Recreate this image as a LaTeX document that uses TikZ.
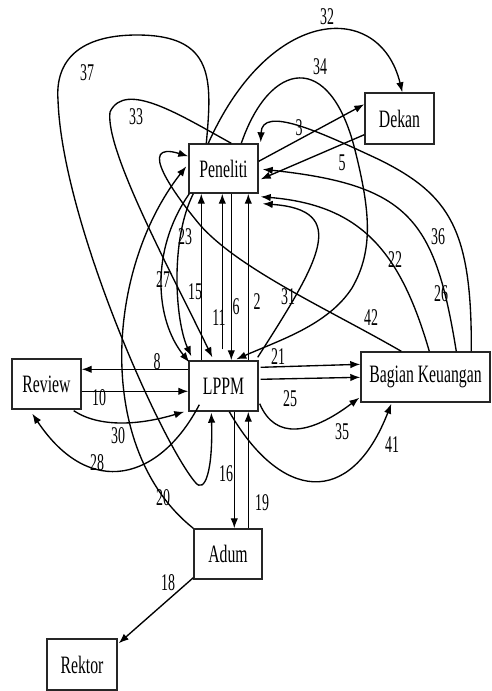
\documentclass[tikz,border=0pt]{standalone}
\usepackage{fontspec}
\setmainfont{Liberation Serif}
\usepackage{graphicx}
\usetikzlibrary{arrows.meta,calc}
% tall, condensed lettering
\newcommand{\boxtxt}[1]{\scalebox{0.63}[1]{#1}}
\newcommand{\numtxt}[1]{\scalebox{0.58}[1]{#1}}

\begin{document}
\begin{tikzpicture}[x=1pt,y=-1pt,
  box/.style={draw=black!85, line width=1.4pt, inner sep=0pt,
              font=\fontsize{25}{25}\selectfont},
  lab/.style={inner sep=0pt, font=\fontsize{24}{24}\selectfont},
  con/.style={line width=1.35pt, -{Latex[length=10pt,width=7.5pt]}}]
\useasboundingbox (0,0) rectangle (491,691);

% entities
\node[box, minimum width=69pt, minimum height=49pt] (P) at (223.5,168.5) {\boxtxt{Peneliti}};
\node[box, minimum width=69pt, minimum height=51pt] (D) at (399.5,118.5) {\boxtxt{Dekan}};
\node[box, minimum width=69pt, minimum height=50pt] (L) at (223.5,386) {\boxtxt{LPPM}};
\node[box, minimum width=69pt, minimum height=50pt] (R) at (46.5,384) {\boxtxt{Review}};
\node[box, minimum width=129pt, minimum height=50pt] (B) at (425.5,377) {\boxtxt{Bagian Keuangan}};
\node[box, minimum width=68pt, minimum height=50pt] (A) at (228,554) {\boxtxt{Adum}};
\node[box, minimum width=70pt, minimum height=51pt] (K) at (82,664.5) {\boxtxt{Rektor}};

% straight flows
\draw[con] ($(L.north west)+(13,0)$) -- ($(P.south west)+(13,0)$);
\draw[con] ($(L.north west)+(34,-11)$) -- ($(P.south west)+(34,0)$);
\draw[con] ($(P.south west)+(43,0)$) -- ($(L.north west)+(43,0)$);
\draw[con] ($(L.north west)+(60,0)$) -- ($(P.south west)+(60,0)$);
\draw[con] ($(L.south west)+(46,0)$) -- ($(A.north west)+(41,0)$);
\draw[con] ($(A.north west)+(55,0)$) -- ($(L.south west)+(60,0)$);
\draw[con] ($(L.north west)+(0,9)$) -- ($(R.north east)+(0,11)$);
\draw[con] ($(R.north east)+(0,33)$) -- ($(L.north west)+(0,31)$);
\draw[con] ($(L.north east)+(2,7)$) -- ($(B.north west)+(0,13)$);
\draw[con] ($(L.north east)+(2,19)$) -- ($(B.north west)+(0,26)$);
\draw[con] ($(P.north east)+(0,18)$) -- ($(D.north west)+(0,12)$);
\draw[con] ($(D.south west)+(0,-10)$) -- ($(P.north east)+(2,36)$);
\draw[con] ($(A.south west)+(0,-2)$) -- ($(K.north east)+(1,5)$);

% curved flows
\draw[con] ($(P.north west)+(20,0)$) .. controls (270,5) and (380,0) .. ($(D.north west)+(38,0)$);
\draw[con] ($(P.north west)+(53,0)$) .. controls (270,60) and (330,50) .. (355,150)
   .. controls (370,210) and (374,250) .. (352,288)
   .. controls (328,325) and (280,340) .. ($(L.north west)+(48,-1)$);
\draw[con] ($(P.north west)+(43,0)$) .. controls (180,115) and (125,80) .. (110,112)
   .. controls (105,150) and (170,270) .. ($(L.north west)+(24,-3)$);
\draw[con] ($(P.north west)+(18,0)$) .. controls (212,80) and (215,35) .. (137,35)
   .. controls (80,35) and (55,60) .. (58,100)
   .. controls (62,220) and (160,440) .. (195,482)
   .. controls (205,495) and (213,470) .. ($(L.south west)+(23,1)$);
\draw[con] (A.north west) .. controls (95,450) and (105,270) .. ($(P.north west)+(-2,23)$);
\draw[con] ($(P.south west)+(1,0)$) .. controls (150,250) and (155,320) .. ($(L.north west)+(1,2)$);
\draw[con] ($(P.south west)+(5,0)$) .. controls (170,240) and (175,320) .. ($(L.north west)+(3,-4)$);
\draw[con] ($(L.north east)+(-1,-3)$) .. controls (320,260) and (350,210) .. ($(P.south east)+(4,10)$);
\draw[con] ($(B.north west)+(69,0)$) .. controls (400,250) and (360,205) .. ($(P.south east)+(2,3)$);
\draw[con] ($(B.north west)+(96,0)$) .. controls (435,220) and (410,185) .. ($(P.north east)+(4,26)$);
\draw[con] ($(B.north west)+(111,0)$) .. controls (472,230) and (450,195) .. (380,160)
   .. controls (320,132) and (262,105) .. ($(P.north east)+(2,-1)$);
\draw[con] ($(B.north west)+(41,0)$) .. controls (330,310) and (240,270) .. (200,225)
   .. controls (175,195) and (135,140) .. ($(P.north west)+(0,13)$);
\draw[con] ($(R.south east)+(-8,1)$) .. controls (100,428) and (140,425) .. ($(L.south west)+(-4,0)$);
\draw[con] ($(L.south west)+(11,-7)$) .. controls (160,480) and (90,500) .. ($(R.south west)+(21,4)$);
\draw[con] ($(L.south east)+(1,-8)$) .. controls (275,440) and (310,435) .. ($(B.south west)+(-1,-5)$);
\draw[con] ($(L.south west)+(41,0)$) .. controls (280,500) and (350,510) .. ($(B.south west)+(31,1)$);

% flow numbers
\node[lab] (n32) at (327,17) {\numtxt{32}};
\node[lab] (n34) at (320,67) {\numtxt{34}};
\node[lab] (n37) at (87,73) {\numtxt{37}};
\node[lab] (n33) at (136,117) {\numtxt{33}};
\node[lab] (n3) at (299,128) {\numtxt{3}};
\node[lab] (n5) at (342,163) {\numtxt{5}};
\node[lab] (n36) at (438,237) {\numtxt{36}};
\node[lab] (n22) at (395,260) {\numtxt{22}};
\node[lab] (n26) at (441,294) {\numtxt{26}};
\node[lab] (n42) at (371,318) {\numtxt{42}};
\node[lab] (n31) at (288,297) {\numtxt{31}};
\node[lab] (n2) at (257,302) {\numtxt{2}};
\node[lab] (n6) at (236,307) {\numtxt{6}};
\node[lab] (n11) at (219,318) {\numtxt{11}};
\node[lab] (n15) at (195,292) {\numtxt{15}};
\node[lab] (n23) at (185,237) {\numtxt{23}};
\node[lab] (n27) at (163,280) {\numtxt{27}};
\node[lab] (n21) at (278,357) {\numtxt{21}};
\node[lab] (n25) at (290,399) {\numtxt{25}};
\node[lab] (n8) at (157,362) {\numtxt{8}};
\node[lab] (n10) at (99,398) {\numtxt{10}};
\node[lab] (n30) at (118,436) {\numtxt{30}};
\node[lab] (n28) at (97,463) {\numtxt{28}};
\node[lab] (n20) at (163,498) {\numtxt{20}};
\node[lab] (n16) at (226,474) {\numtxt{16}};
\node[lab] (n19) at (262,503) {\numtxt{19}};
\node[lab] (n35) at (342,432) {\numtxt{35}};
\node[lab] (n41) at (392,445) {\numtxt{41}};
\node[lab] (n18) at (168,583) {\numtxt{18}};
\end{tikzpicture}
\end{document}
